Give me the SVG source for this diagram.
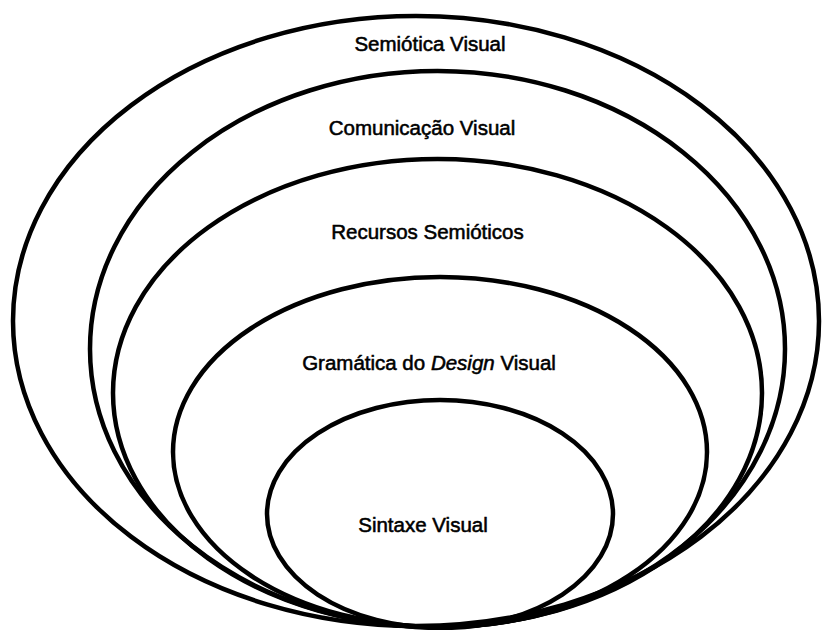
<svg xmlns="http://www.w3.org/2000/svg" width="825" height="630" viewBox="0 0 825 630">
<style>
.ring{fill:none;stroke:#000;stroke-width:4.5}
.lbl{font-family:"Liberation Sans",Arial,sans-serif;font-size:20.5px;fill:#000;stroke:#000;stroke-width:0.55;text-anchor:middle}
</style>
<rect width="825" height="630" fill="#fff"/>
<g id="semiotica-visual">
<ellipse class="ring" cx="416" cy="321" rx="403" ry="305"/>
<text class="lbl" x="430" y="51">Semiótica Visual</text>
</g>
<g id="comunicacao-visual">
<ellipse class="ring" cx="437.5" cy="349" rx="347.5" ry="278"/>
<text class="lbl" x="422" y="135">Comunicação Visual</text>
</g>
<g id="recursos-semioticos">
<ellipse class="ring" cx="437.5" cy="393" rx="324.5" ry="234"/>
<text class="lbl" x="427.5" y="239">Recursos Semióticos</text>
</g>
<g id="gramatica-design-visual">
<ellipse class="ring" cx="440" cy="452" rx="267" ry="175"/>
<text class="lbl" x="429" y="370">Gramática do <tspan font-style="italic">Design</tspan> Visual</text>
</g>
<g id="sintaxe-visual">
<ellipse class="ring" cx="440" cy="514" rx="173" ry="114"/>
<text class="lbl" x="423" y="532">Sintaxe Visual</text>
</g>
<g id="connectors"/>
</svg>
